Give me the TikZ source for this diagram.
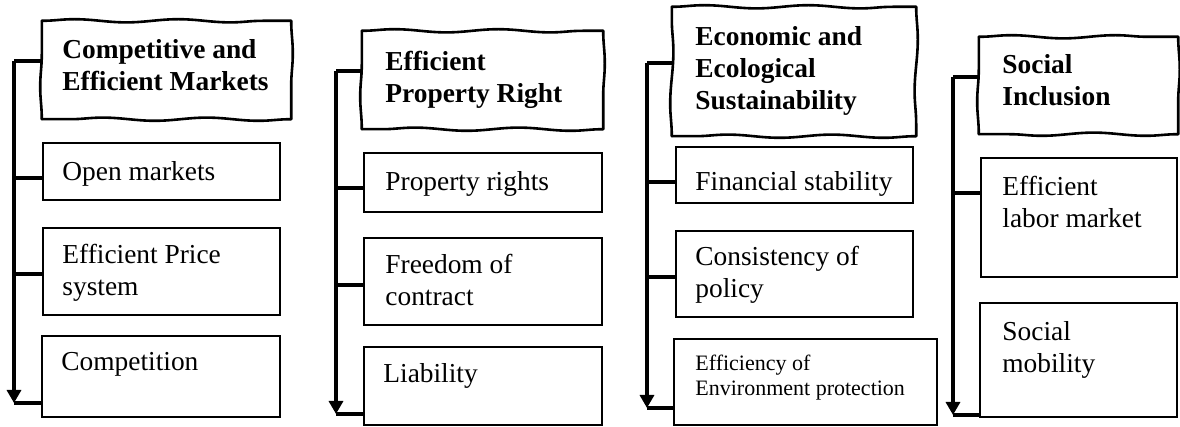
\documentclass[tikz,border=0pt]{standalone}
\usepackage{fontspec}
\setmainfont{Liberation Serif}
\usetikzlibrary{arrows.meta,fit,decorations.pathmorphing}
\tikzset{
  box/.style={rectangle, draw, line width=1.2pt, inner sep=0pt},
  wave/.style={draw, line width=1.3pt, line cap=round, decorate, decoration={snake, amplitude=0.8pt, segment length=52pt}},
  hbox/.style={box, draw=none, append after command={
      (\tikzlastnode.north west) edge[wave] (\tikzlastnode.north east)
      (\tikzlastnode.north east) edge[wave] (\tikzlastnode.south east)
      (\tikzlastnode.south east) edge[wave] (\tikzlastnode.south west)
      (\tikzlastnode.south west) edge[wave] (\tikzlastnode.north west)}},
  txt/.style={anchor=north west, align=left, inner sep=0pt, font=\fontsize{13.7}{16}\selectfont},
  htxt/.style={txt, font=\fontsize{13.7}{16}\selectfont\bfseries},
  smalltxt/.style={txt, font=\fontsize{11}{12.5}\selectfont},
  link/.style={line width=1.6pt},
  spine/.style={link, -{Triangle[width=7pt,length=6.5pt]}}
}

\begin{document}
\begin{tikzpicture}[x=0.5pt, y=-0.5pt]
\useasboundingbox (0,0) rectangle (1180,427);

% markets
\node[hbox, fit={(43,22) (290,118)}] (mkt) {};
\node[box, fit={(43,143) (280,200)}] (mkt1) {};
\node[box, fit={(43,228) (280,315)}] (mkt2) {};
\node[box, fit={(42,336) (280,417)}] (mkt3) {};
\node[htxt] (mkt-t) at (62,39) {Competitive and\\Efficient Markets};
\node[txt] (mkt1-t) at (62,161) {Open markets};
\node[txt] (mkt2-t) at (62,244) {Efficient Price\\system};
\node[txt] (mkt3-t) at (61,352) {Competition};

% property rights
\node[hbox, fit={(363,32) (602,128)}] (prop) {};
\node[box, fit={(364,153) (602,212)}] (prop1) {};
\node[box, fit={(364,238) (602,325)}] (prop2) {};
\node[box, fit={(364,347) (602,425)}] (prop3) {};
\node[htxt] (prop-t) at (385,51) {Efficient\\Property Right};
\node[txt] (prop1-t) at (385,171) {Property rights};
\node[txt] (prop2-t) at (385,254) {Freedom of\\contract};
\node[txt] (prop3-t) at (383,363) {Liability};

% sustainability
\node[hbox, fit={(673,8) (915,135)}] (eco) {};
\node[box, fit={(676,147) (913,203)}] (eco1) {};
\node[box, fit={(676,231) (913,317)}] (eco2) {};
\node[box, fit={(674,339) (937,425)}] (eco3) {};
\node[htxt] (eco-t) at (695,26) {Economic and\\Ecological\\Sustainability};
\node[txt] (eco1-t) at (695,171) {Financial stability};
\node[txt] (eco2-t) at (695,246) {Consistency of\\policy};
\node[smalltxt] (eco3-t) at (695,355) {Efficiency of\\Environment protection};

% social inclusion
\node[hbox, fit={(980,38) (1177,133)}] (soc) {};
\node[box, fit={(981,158) (1177,277)}] (soc1) {};
\node[box, fit={(980,303) (1177,417)}] (soc2) {};
\node[htxt] (soc-t) at (1002,54) {Social\\Inclusion};
\node[txt] (soc1-t) at (1002,176) {Efficient\\labor market};
\node[txt] (soc2-t) at (1002,321) {Social\\mobility};

% spines and branches
\coordinate (mkt-a) at (14,61);  \coordinate (mkt-b) at (14,178);
\coordinate (mkt-c) at (14,274); \coordinate (mkt-z) at (14,403);
\draw[spine] (mkt-a) -- (mkt-z);
\draw[link] (mkt-a) -- (mkt-a -| mkt.west);
\draw[link] (mkt-b) -- (mkt-b -| mkt1.west);
\draw[link] (mkt-c) -- (mkt-c -| mkt2.west);
\draw[link] (mkt-z) -- (mkt-z -| mkt3.west);

\coordinate (prop-a) at (336,71);  \coordinate (prop-b) at (336,188);
\coordinate (prop-c) at (336,285); \coordinate (prop-z) at (336,414);
\draw[spine] (prop-a) -- (prop-z);
\draw[link] (prop-a) -- (prop-a -| prop.west);
\draw[link] (prop-b) -- (prop-b -| prop1.west);
\draw[link] (prop-c) -- (prop-c -| prop2.west);
\draw[link] (prop-z) -- (prop-z -| prop3.west);

\coordinate (eco-a) at (647,63);  \coordinate (eco-b) at (647,182);
\coordinate (eco-c) at (647,277); \coordinate (eco-z) at (647,408);
\draw[spine] (eco-a) -- (eco-z);
\draw[link] (eco-a) -- (eco-a -| eco.west);
\draw[link] (eco-b) -- (eco-b -| eco1.west);
\draw[link] (eco-c) -- (eco-c -| eco2.west);
\draw[link] (eco-z) -- (eco-z -| eco3.west);

\coordinate (soc-a) at (953,77); \coordinate (soc-b) at (953,193);
\coordinate (soc-z) at (953,415);
\draw[spine] (soc-a) -- (soc-z);
\draw[link] (soc-a) -- (soc-a -| soc.west);
\draw[link] (soc-b) -- (soc-b -| soc1.west);
\draw[link] (soc-z) -- (soc-z -| soc2.west);
\end{tikzpicture}
\end{document}
